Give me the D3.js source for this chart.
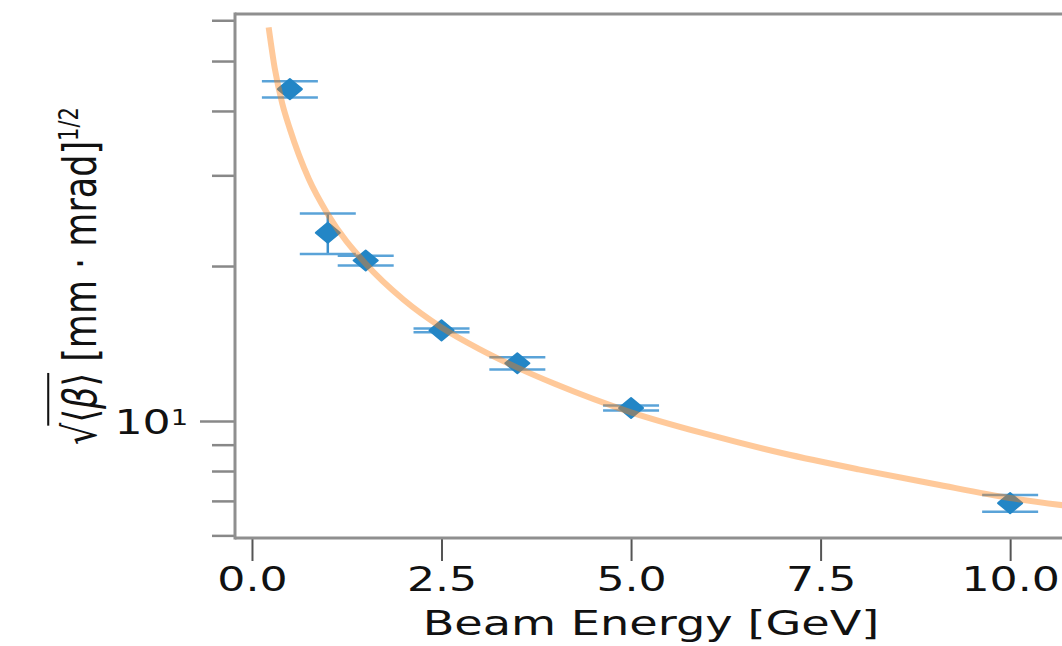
<!DOCTYPE html>
<html><head><meta charset="utf-8">
<script src="https://cdn.jsdelivr.net/npm/d3@7"></script>
<style>
html,body{margin:0;padding:0;background:#fff;overflow:hidden;}
text{font-family:"DejaVu Sans",sans-serif;fill:#111;}
</style></head>
<body>
<svg id="chart" width="1062" height="646"></svg>
<script>
// ---- data ----
const energies = [0.5, 1.0, 1.5, 2.5, 3.5, 5.0, 10.0];
const sqrtBeta = [44.1, 23.2, 20.5, 15.0, 12.95, 10.6, 6.93];
const sqrtBetaErr = [1.6, 2.1, 0.45, 0.12, 0.35, 0.12, 0.26];
const fitEnergy = [0.22, 0.3, 0.4, 0.5, 0.75, 1.0, 1.5, 2.0, 2.5, 3.0, 3.5, 4.0, 5.0, 6.0, 7.0, 8.0, 9.0, 10.0, 10.75];
const fitValue  = [58.1, 48.4, 41.3, 36.9, 29.5, 25.2, 20.2, 17.2, 15.2, 13.8, 12.7, 11.8, 10.4, 9.43, 8.66, 8.06, 7.55, 7.09, 6.85];
const xTickValues = [0, 2.5, 5.0, 7.5, 10.0];
const xLabel = "Beam Energy [GeV]";

// ---- layout ----
const pL = 235, pR = 1067, pT = 14, pB = 538;
const SX = 1.3; // horizontal stretch of text in reference
const FS = 34;

const svg = d3.select("#chart");
const x = d3.scaleLinear().domain([-0.224, 10.75]).range([pL, pR]);
const y = d3.scaleLog().domain([5.93, 61.7]).range([pB, pT]);

svg.append("defs").append("clipPath").attr("id","plotclip")
  .append("rect").attr("x",pL).attr("y",pT).attr("width",pR-pL).attr("height",pB-pT);

// ---- x axis ----
const xAxis = svg.append("g").attr("transform",`translate(0,${pB})`)
  .call(d3.axisBottom(x).tickValues(xTickValues).tickFormat(d3.format(".1f")).tickSize(23).tickPadding(6));
xAxis.select(".domain").remove();
xAxis.selectAll(".tick line").attr("stroke","#555").attr("stroke-width",2);
xAxis.selectAll(".tick text").attr("font-size",FS).attr("fill","#111")
  .attr("transform",`scale(${SX},1)`);

// ---- y axis ----
const allY = y.ticks();
const majorY = allY.filter(d => Math.abs(Math.log10(d) - Math.round(Math.log10(d))) < 1e-9);
const minorY = allY.filter(d => !majorY.includes(d));
const yMinor = svg.append("g").attr("transform",`translate(${pL},0)`)
  .call(d3.axisLeft(y).tickValues(minorY).tickFormat("").tickSize(23));
yMinor.select(".domain").remove();
yMinor.selectAll(".tick line").attr("stroke","#888").attr("stroke-width",2.5);
const yMajor = svg.append("g").attr("transform",`translate(${pL},0)`)
  .call(d3.axisLeft(y).tickValues(majorY).tickFormat("").tickSize(35).tickPadding(12));
yMajor.select(".domain").remove();
yMajor.selectAll(".tick line").attr("stroke","#888").attr("stroke-width",2.5);
yMajor.selectAll(".tick text").each(function(d){
  const t = d3.select(this);
  t.attr("x", -47/SX).attr("transform",`scale(${SX},1)`).attr("font-size",FS).attr("dy","0.35em").attr("fill","#111");
  t.text(null);
  t.append("tspan").text("10");
  t.append("tspan").attr("font-size",21).attr("dy",-9).text(String(Math.round(Math.log10(d))));
});

// ---- spines ----
const spine = svg.append("g").attr("stroke","#8f8f8f").attr("stroke-width",3).attr("fill","none");
spine.append("line").attr("x1",pL).attr("x2",pL).attr("y1",pT-1.5).attr("y2",pB+1.5);
spine.append("line").attr("x1",pL).attr("x2",pR).attr("y1",pT).attr("y2",pT);
spine.append("line").attr("x1",pL).attr("x2",pR).attr("y1",pB).attr("y2",pB);
spine.append("line").attr("x1",pR).attr("x2",pR).attr("y1",pT).attr("y2",pB);

// ---- data points with error bars ----
const plot = svg.append("g").attr("clip-path","url(#plotclip)");
const pts = energies.map((e,i)=>({e, v:sqrtBeta[i], err:sqrtBetaErr[i]}));
const eb = plot.append("g");
eb.selectAll("line.v").data(pts).join("line").attr("class","v")
  .attr("x1",d=>x(d.e)).attr("x2",d=>x(d.e))
  .attr("y1",d=>y(d.v+d.err)).attr("y2",d=>y(d.v-d.err))
  .attr("stroke","#3b8fcc").attr("stroke-width",2.5);
const capW = 28;
eb.selectAll("line.ct").data(pts).join("line").attr("class","ct")
  .attr("x1",d=>x(d.e)-capW).attr("x2",d=>x(d.e)+capW)
  .attr("y1",d=>y(d.v+d.err)).attr("y2",d=>y(d.v+d.err))
  .attr("stroke","#5aa3d8").attr("stroke-width",2.5);
eb.selectAll("line.cb").data(pts).join("line").attr("class","cb")
  .attr("x1",d=>x(d.e)-capW).attr("x2",d=>x(d.e)+capW)
  .attr("y1",d=>y(d.v-d.err)).attr("y2",d=>y(d.v-d.err))
  .attr("stroke","#5aa3d8").attr("stroke-width",2.5);
eb.selectAll("path.m").data(pts).join("path").attr("class","m")
  .attr("transform",d=>`translate(${x(d.e)},${y(d.v)})`)
  .attr("d","M0,-10L12,0L0,10L-12,0Z")
  .attr("fill","#2386c6").attr("stroke","#2386c6").attr("stroke-width",2).attr("stroke-linejoin","round");

// ---- fit curve ----
const fitPts = fitEnergy.map((e,i)=>[e, fitValue[i]]);
plot.append("path").datum(fitPts)
  .attr("d", d3.line().x(d=>x(d[0])).y(d=>y(d[1])).curve(d3.curveMonotoneX))
  .attr("fill","none").attr("stroke","#ff7f0e").attr("stroke-opacity",0.42).attr("stroke-width",6);

// ---- x label ----
svg.append("text").attr("transform",`translate(${(pL+pR)/2},635) scale(1.36,1)`)
  .attr("text-anchor","middle").attr("font-size",FS).text(xLabel);

// ---- y label ----
const yl = svg.append("g").attr("transform",`translate(96,${(pT+pB)/2}) scale(${SX},1) rotate(-90)`);
const ylt = yl.append("text").attr("text-anchor","middle").attr("font-size",35);
ylt.append("tspan").text("√");
ylt.append("tspan").text("⟨");
ylt.append("tspan").attr("font-style","italic").text("β");
ylt.append("tspan").text("⟩");
ylt.append("tspan").text(" [mm · mrad]");
ylt.append("tspan").attr("font-size",21).attr("dy",-14).text("1/2");
const node = ylt.node();
const e0 = node.getEndPositionOfChar(3).x;
const r0 = node.getStartPositionOfChar(0).x;
yl.append("line").attr("x1",r0+35*0.55).attr("x2",e0).attr("y1",-35*1.05).attr("y2",-35*1.05)
  .attr("stroke","#111").attr("stroke-width",1.6);
</script>
</body></html>
